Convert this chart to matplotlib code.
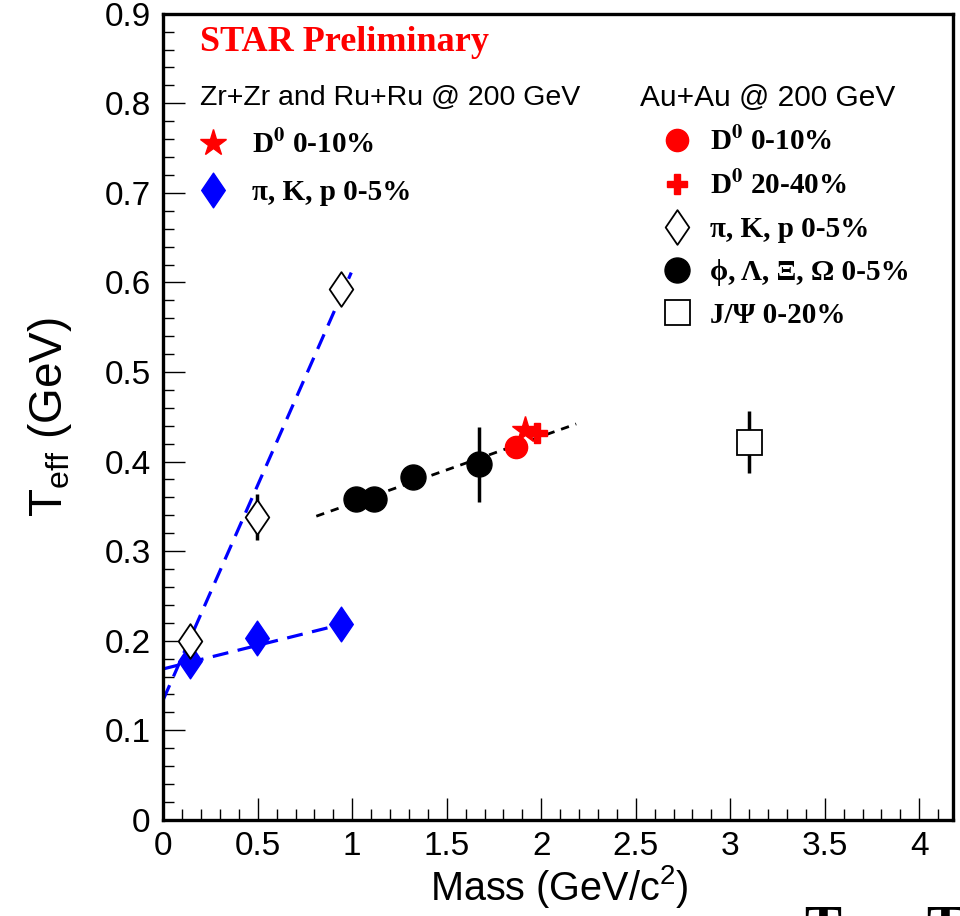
import numpy as np
import matplotlib
matplotlib.use("Agg")
import matplotlib.pyplot as plt
from matplotlib.path import Path
from matplotlib.ticker import MultipleLocator

plt.rcParams['font.family'] = ['Liberation Sans', 'DejaVu Sans']
plt.rcParams['mathtext.fontset'] = 'custom'
plt.rcParams['mathtext.rm'] = 'Liberation Sans'
plt.rcParams['mathtext.it'] = 'Liberation Sans:italic'
plt.rcParams['mathtext.bf'] = 'Liberation Sans:bold'

# ---------------- data ----------------
# Zr+Zr / Ru+Ru, pi K p 0-5%
zr_pikp_mass = [0.1396, 0.4937, 0.9383]
zr_pikp_T = [0.177, 0.203, 0.219]
# Zr+Zr / Ru+Ru, D0 0-10%
zr_d0_mass = [1.915]
zr_d0_T = [0.435]
# Au+Au pi K p 0-5%
au_pikp_mass = [0.1396, 0.4937, 0.9383]
au_pikp_T = [0.200, 0.338, 0.593]
au_pikp_err = [0.008, 0.026, 0.012]
# Au+Au phi, Lambda, Xi, Omega 0-5%
au_strange_mass = [1.019, 1.116, 1.321, 1.672]
au_strange_T = [0.358, 0.358, 0.383, 0.397]
au_strange_err = [0.008, 0.008, 0.010, 0.042]
# Au+Au D0
au_d0_010_mass = [1.865]
au_d0_010_T = [0.416]
au_d0_010_err = [0.012]
au_d0_2040_mass = [1.980]
au_d0_2040_T = [0.432]
au_d0_2040_err = [0.008]
# Au+Au J/psi 0-20%
au_jpsi_mass = [3.097]
au_jpsi_T = [0.422]
au_jpsi_err = [0.035]
# linear fits (endpoints)
fit_zr_x = [0.0, 0.94]
fit_zr_y = [0.1685, 0.218]
fit_au_light_x = [0.0, 0.995]
fit_au_light_y = [0.134, 0.611]
fit_au_heavy_x = [0.81, 2.185]
fit_au_heavy_y = [0.339, 0.442]

# legend / header texts
zr_header = 'Zr+Zr and Ru+Ru @ 200 GeV'
au_header = 'Au+Au @ 200 GeV'
zr_labels = ['D$^{\\mathbf{0}}$ 0-10%', 'π, K, p 0-5%']
au_labels = ['D$^{\\mathbf{0}}$ 0-10%', 'D$^{\\mathbf{0}}$ 20-40%', 'π, K, p 0-5%',
             'ϕ, Λ, Ξ, Ω 0-5%', 'J/Ψ 0-20%']

# ---------------- figure ----------------
fig = plt.figure(figsize=(9.6, 9.16), dpi=100)
ax = fig.add_axes([0.170, 0.105, 0.823, 0.880])

diamond = Path([(0, 1), (0.68, 0), (0, -1), (-0.68, 0), (0, 1)],
               [Path.MOVETO, Path.LINETO, Path.LINETO, Path.LINETO, Path.CLOSEPOLY])

# fit lines
ax.plot(fit_zr_x, fit_zr_y, color='#0000ff', lw=2.3, ls=(0, (5, 3)), zorder=2)
ax.plot(fit_au_light_x, fit_au_light_y, color='#0000ff', lw=2.3, ls=(0, (5, 3)), zorder=2)
ax.plot(fit_au_heavy_x, fit_au_heavy_y, color='black', lw=2.0, ls=(0, (3, 2.5)), zorder=2)

# points
h_zr_d0, = ax.plot(zr_d0_mass, zr_d0_T, ls='none', marker='*', ms=20, color='#ff0000',
                   mec='#ff0000', zorder=3)
h_zr_pikp, = ax.plot(zr_pikp_mass, zr_pikp_T, ls='none', marker=diamond, ms=25,
                     color='#0000ff', mec='#0000ff', zorder=4)
ax.errorbar(au_pikp_mass, au_pikp_T, yerr=au_pikp_err, fmt='none', ecolor='black',
            elinewidth=2.5, capsize=0, zorder=3)
h_au_pikp, = ax.plot(au_pikp_mass, au_pikp_T, ls='none', marker=diamond, ms=25,
                     mfc='white', mec='black', mew=1.3, zorder=4)
ax.errorbar(au_strange_mass, au_strange_T, yerr=au_strange_err, fmt='none', ecolor='black',
            elinewidth=2.5, capsize=0, zorder=3)
h_au_str, = ax.plot(au_strange_mass, au_strange_T, ls='none', marker='o', ms=18,
                    color='black', zorder=4)
ax.errorbar(au_d0_010_mass, au_d0_010_T, yerr=au_d0_010_err, fmt='none', ecolor='#ff0000',
            elinewidth=2.5, capsize=0, zorder=3)
h_au_d0a, = ax.plot(au_d0_010_mass, au_d0_010_T, ls='none', marker='o', ms=16,
                    color='#ff0000', zorder=4)
ax.errorbar(au_d0_2040_mass, au_d0_2040_T, yerr=au_d0_2040_err, fmt='none', ecolor='#ff0000',
            elinewidth=2.5, capsize=0, zorder=3)
h_au_d0b, = ax.plot(au_d0_2040_mass, au_d0_2040_T, ls='none', marker='P', ms=15,
                    color='#ff0000', mec='#ff0000', zorder=4)
ax.errorbar(au_jpsi_mass, au_jpsi_T, yerr=au_jpsi_err, fmt='none', ecolor='black',
            elinewidth=2.5, capsize=0, zorder=3)
h_au_jpsi, = ax.plot(au_jpsi_mass, au_jpsi_T, ls='none', marker='s', ms=18,
                     mfc='white', mec='black', mew=1.3, zorder=4)

# axes
ax.set_xlim(0, 4.18)
ax.set_ylim(0, 0.9)
ax.xaxis.set_minor_locator(MultipleLocator(0.1))
ax.yaxis.set_minor_locator(MultipleLocator(0.02))
ax.set_xticks([0, 0.5, 1, 1.5, 2, 2.5, 3, 3.5, 4])
ax.set_xticklabels(['0', '0.5', '1', '1.5', '2', '2.5', '3', '3.5', '4'])
ax.set_yticks([0, 0.1, 0.2, 0.3, 0.4, 0.5, 0.6, 0.7, 0.8, 0.9])
ax.set_yticklabels(['0', '0.1', '0.2', '0.3', '0.4', '0.5', '0.6', '0.7', '0.8', '0.9'])
ax.tick_params(which='both', direction='in', top=False, right=False, width=1.0,
               labelsize=24)
ax.tick_params(which='major', length=16)
ax.tick_params(which='minor', length=8)
ax.tick_params(axis='y', pad=9)
ax.tick_params(axis='x', pad=8)
for s in ax.spines.values():
    s.set_linewidth(2.4)

ax.set_xlabel('Mass (GeV/c$^{2}$)', fontsize=28.5, x=0.502, labelpad=1)
ax.set_ylabel('T$_{\\mathrm{eff}}$ (GeV)', fontsize=33, labelpad=22)

# texts
ax.text(0.0468, 0.9640, 'STAR Preliminary', transform=ax.transAxes, color='#ff0000',
        fontsize=26, fontweight='bold', family='Liberation Serif', va='center', ha='left')
ax.text(0.0468, 0.8958, zr_header, transform=ax.transAxes, fontsize=20.5,
        va='center', ha='left')
ax.text(0.6038, 0.8958, au_header, transform=ax.transAxes, fontsize=21.5,
        va='center', ha='left')

serif_bold = {'family': 'Liberation Serif', 'weight': 'bold', 'size': 21}

leg1 = ax.legend([h_zr_d0, h_zr_pikp], zr_labels,
                 loc='upper left', bbox_to_anchor=(0.0228, 0.8690), frameon=False,
                 prop=serif_bold, labelspacing=0.68, handletextpad=0.63,
                 handlelength=1.4, borderaxespad=0, numpoints=1)
for t in leg1.get_texts():
    t.set_math_fontfamily('stix')
ax.add_artist(leg1)

leg2 = ax.legend([h_au_d0a, h_au_d0b, h_au_pikp, h_au_str, h_au_jpsi], au_labels,
                 loc='upper left', bbox_to_anchor=(0.610, 0.8730), frameon=False,
                 prop=serif_bold, labelspacing=0.54, handletextpad=0.43,
                 handlelength=1.4, borderaxespad=0, numpoints=1)
for t in leg2.get_texts():
    t.set_math_fontfamily('stix')

# cut-off text fragments at bottom edge
fig.text(0.838, 0.012, 'T', fontsize=40, fontweight='bold', family='Liberation Serif',
         va='top', ha='left')
fig.text(0.965, 0.012, 'T', fontsize=40, fontweight='bold', family='Liberation Serif',
         va='top', ha='left')

fig.savefig('out.png', dpi=100)
